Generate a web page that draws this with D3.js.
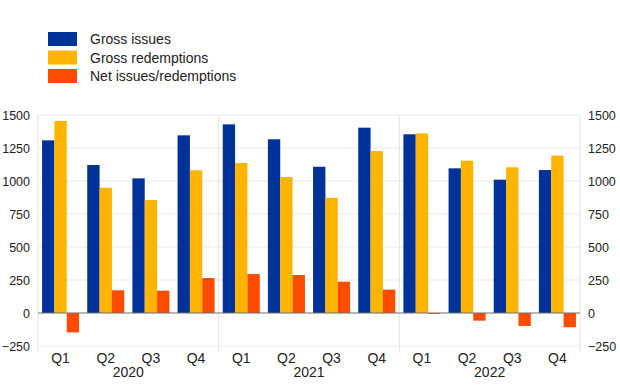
<!DOCTYPE html>
<html>
<head>
<meta charset="utf-8">
<script src="https://cdn.jsdelivr.net/npm/d3@7"></script>
<style>
  body { margin: 0; background: #fff; }
  text { font-family: "Liberation Sans", Arial, sans-serif; fill: #222; }
</style>
</head>
<body>
<div id="chart-area"></div>
<script>
// Data
var years = ["2020", "2021", "2022"]
var quarters = ["Q1", "Q2", "Q3", "Q4"]
var seriesNames = ["Gross issues", "Gross redemptions", "Net issues/redemptions"]
var seriesColors = ["#003299", "#ffb400", "#ff4b00"]
var grossIssues = [1308, 1121, 1020, 1346, 1429, 1316, 1108, 1404, 1354, 1096, 1010, 1083]
var grossRedemptions = [1455, 949, 856, 1081, 1136, 1030, 873, 1227, 1361, 1154, 1104, 1192]
var netIssues = [-147, 172, 169, 265, 295, 288, 237, 177, -7, -58, -98, -108]
var yTicks = [-250, 0, 250, 500, 750, 1000, 1250, 1500]

var width = 620, height = 387
var margin = {top: 115, right: 40, bottom: 41, left: 38}
var w = width - margin.left - margin.right,
    h = height - margin.top - margin.bottom

var svg = d3.select("#chart-area")
    .append("svg")
        .attr("width", width)
        .attr("height", height)

// Periods
var periods = []
years.forEach(function(yr){
    quarters.forEach(function(q){ periods.push(yr + " " + q) })
})
var series = [grossIssues, grossRedemptions, netIssues]
var data = periods.map(function(p, i){
    return {period: p, values: series.map(function(s){ return s[i] })}
})

// Scales
var x0 = d3.scaleBand().domain(periods).range([0, w]).paddingInner(0.18).paddingOuter(0.09)
var x1 = d3.scaleBand().domain(d3.range(3)).range([0, x0.bandwidth()])
var y = d3.scaleLinear().domain([-250, 1500]).range([h, 0])

var g = svg.append("g")
    .attr("transform", "translate(" + margin.left + ", " + margin.top + ")")

// Gridlines
g.selectAll(".grid")
    .data(yTicks.filter(d => d !== 0))
    .enter().append("line")
        .attr("x1", 0).attr("x2", w)
        .attr("y1", d => y(d)).attr("y2", d => y(d))
        .attr("stroke", "#ebebeb")
        .attr("stroke-width", 1)

// Frame sides and year separators
var step = w / periods.length
var seps = [0, 4, 8, 12]
g.selectAll(".sep")
    .data(seps)
    .enter().append("line")
        .attr("x1", d => d * step).attr("x2", d => d * step)
        .attr("y1", 0).attr("y2", h + 6)
        .attr("stroke", "#e3e3e3")
        .attr("stroke-width", 1)

// Bars
var groups = g.selectAll(".period")
    .data(data)
    .enter().append("g")
        .attr("transform", d => "translate(" + x0(d.period) + ",0)")

groups.selectAll("rect")
    .data(d => d.values)
    .enter().append("rect")
        .attr("x", (d, i) => x1(i))
        .attr("width", x1.bandwidth())
        .attr("y", d => y(Math.max(0, d)))
        .attr("height", d => Math.abs(y(d) - y(0)))
        .attr("fill", (d, i) => seriesColors[i])

// Zero line
g.append("line")
    .attr("x1", 0).attr("x2", w)
    .attr("y1", y(0)).attr("y2", y(0))
    .attr("stroke", "#6e6e6e")
    .attr("stroke-width", 1)

// Y axes on both sides
var fmt = d3.format("d")
var yLeft = d3.axisLeft(y).tickValues(yTicks).tickFormat(fmt).tickSize(0).tickPadding(8)
var yRight = d3.axisRight(y).tickValues(yTicks).tickFormat(fmt).tickSize(0).tickPadding(8)
g.append("g").call(yLeft)
    .call(a => a.select(".domain").remove())
    .selectAll("text").attr("font-size", 12.5).attr("fill", "#222")
g.append("g").attr("transform", "translate(" + w + ",0)").call(yRight)
    .call(a => a.select(".domain").remove())
    .selectAll("text").attr("font-size", 12.5).attr("fill", "#222")

// Quarter labels
g.selectAll(".qlabel")
    .data(data)
    .enter().append("text")
        .attr("x", d => x0(d.period) + x0.bandwidth() / 2)
        .attr("y", h + 17)
        .attr("text-anchor", "middle")
        .attr("font-size", 14)
        .text(d => d.period.split(" ")[1])

// Year labels
g.selectAll(".ylabel")
    .data(years)
    .enter().append("text")
        .attr("x", (d, i) => (i * 4 + 2) * step)
        .attr("y", h + 31)
        .attr("text-anchor", "middle")
        .attr("font-size", 14)
        .text(d => d)

// Legend
var legend = svg.append("g").attr("transform", "translate(48, 32)")
var items = legend.selectAll(".item")
    .data(seriesNames)
    .enter().append("g")
        .attr("transform", (d, i) => "translate(0," + i * 18.5 + ")")
items.append("rect")
    .attr("width", 29).attr("height", 14)
    .attr("fill", (d, i) => seriesColors[i])
items.append("text")
    .attr("x", 42).attr("y", 12)
    .attr("font-size", 14)
    .text(d => d)
</script>
</body>
</html>
